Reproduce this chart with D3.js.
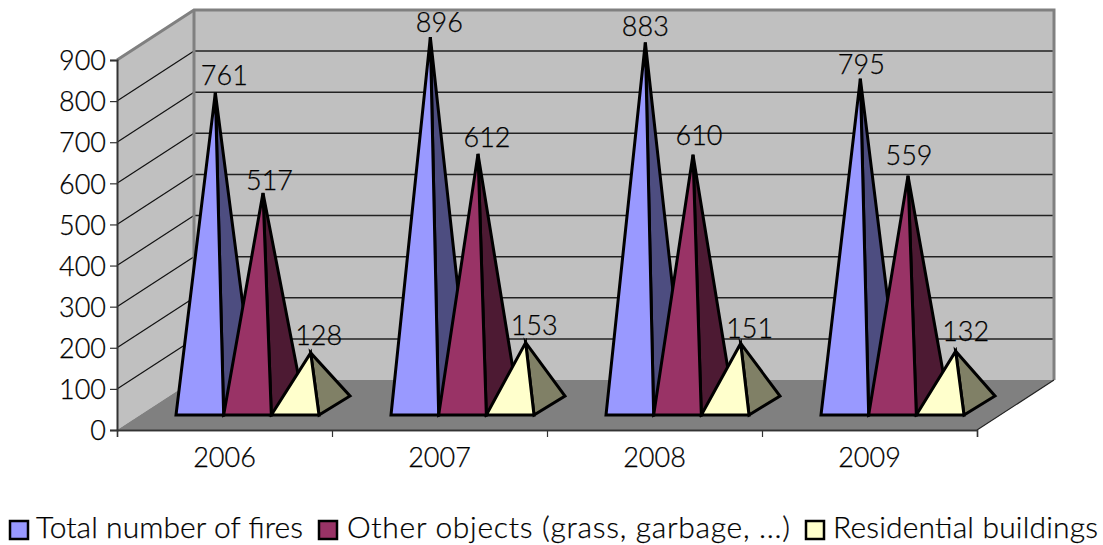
<!DOCTYPE html>
<html>
<head>
<meta charset="utf-8">
<script src="https://cdn.jsdelivr.net/npm/d3@7"></script>
<style>
  html, body { margin: 0; padding: 0; background: #fff; }
  svg { display: block; }
  text { font-family: Lato, "Open Sans", sans-serif; font-weight: 300; fill: #000; stroke: #000; stroke-width: 0.25; }
</style>
</head>
<body>
<main></main>
<script>
const years = ["2006", "2007", "2008", "2009"];
const seriesNames = ["Total number of fires", "Other objects (grass, garbage, ...)", "Residential buildings"];
const totalFires = [761, 896, 883, 795];
const otherObjects = [517, 612, 610, 559];
const residential = [128, 153, 151, 132];
const yTicks = [0, 100, 200, 300, 400, 500, 600, 700, 800, 900];
const frontColors = ["#9999ff", "#993366", "#ffffcc"];
const sideColors = ["#4d4d80", "#4d1a33", "#808066"];

// where each value label sits relative to its apex, by year then series
const labelDx = [[9, 6.5, 8], [9, 9, 8.5], [0, 6, 9], [1, 1, 10]];
const labelDy = [[-8, -3, -8], [-5, -7, -8], [-6, -10, -5], [-5, -11, -10]];

const w = 1103;
const h = 545;
const fontSize = 27;
const legendFontSize = 30;

// front plane of the box, and how far back the walls are pushed
const plotLeft = 117;
const plotRight = 977;
const plotBottom = 430;
const plotTop = 60;
const depthX = 77;
const depthY = 50;

// pyramid base, relative to the front plane
const baseLift = 15;
const baseDepthX = 31;
const baseDepthY = 19;
const apexLift = 24.5;

const svg = d3
  .select("main")
  .append("svg")
  .attr("width", w)
  .attr("height", h);

const x = d3.scaleBand().domain(years).range([plotLeft, plotRight]);
const xInner = d3.scaleBand().domain(seriesNames).range([59, 202]);
const xEdges = d3.scaleLinear().domain([0, years.length]).range([plotLeft, plotRight]);
const y = d3.scaleLinear().domain([0, 900]).range([plotBottom, plotTop]);

const walls = svg.append("g").attr("id", "walls");

walls
  .append("polygon")
  .attr("points", [
    [plotLeft, plotTop],
    [plotLeft + depthX, plotTop - depthY],
    [plotLeft + depthX, plotBottom - depthY],
    [plotLeft, plotBottom],
  ].join(" "))
  .attr("fill", "#c0c0c0");

walls
  .append("rect")
  .attr("x", plotLeft + depthX)
  .attr("y", plotTop - depthY)
  .attr("width", plotRight - plotLeft)
  .attr("height", plotBottom - plotTop)
  .attr("fill", "#c0c0c0");

walls
  .append("polygon")
  .attr("points", [
    [plotLeft, plotBottom],
    [plotRight, plotBottom],
    [plotRight + depthX, plotBottom - depthY],
    [plotLeft + depthX, plotBottom - depthY],
  ].join(" "))
  .attr("fill", "#808080");

// gridlines on the side wall and the back wall
const gridValues = yTicks.filter((d) => d > 0 && d < 900);

walls
  .selectAll(".side-grid")
  .data(gridValues)
  .join("line")
  .attr("class", "side-grid")
  .attr("x1", plotLeft)
  .attr("x2", plotLeft + depthX)
  .attr("y1", (d) => y(d))
  .attr("y2", (d) => y(d) - depthY)
  .attr("stroke", "#111")
  .attr("stroke-width", 1.2);

walls
  .selectAll(".back-grid")
  .data(gridValues)
  .join("line")
  .attr("class", "back-grid")
  .attr("x1", plotLeft + depthX)
  .attr("x2", plotRight + depthX)
  .attr("y1", (d) => y(d) - depthY)
  .attr("y2", (d) => y(d) - depthY)
  .attr("stroke", "#222")
  .attr("stroke-width", 1.5);

walls
  .append("path")
  .attr("d", d3.line()([
    [plotLeft, plotTop],
    [plotLeft + depthX, plotTop - depthY],
    [plotRight + depthX, plotTop - depthY],
    [plotRight + depthX, plotBottom - depthY],
  ]))
  .attr("fill", "none")
  .attr("stroke", "#808080")
  .attr("stroke-width", 3);

walls
  .append("line")
  .attr("x1", plotLeft + depthX)
  .attr("x2", plotLeft + depthX)
  .attr("y1", plotTop - depthY)
  .attr("y2", plotBottom - depthY)
  .attr("stroke", "#808080")
  .attr("stroke-width", 3);

// front right floor edge
walls
  .append("line")
  .attr("x1", plotRight)
  .attr("x2", plotRight + depthX)
  .attr("y1", plotBottom)
  .attr("y2", plotBottom - depthY)
  .attr("stroke", "#222")
  .attr("stroke-width", 1.2);

// axes
const yAxis = svg
  .append("g")
  .attr("transform", `translate(${plotLeft}, 0)`)
  .call(d3.axisLeft(y).tickValues(yTicks).tickSize(7).tickPadding(4));

const xAxis = svg
  .append("g")
  .attr("transform", `translate(0, ${plotBottom})`)
  .call(d3.axisBottom(x).tickSize(0).tickPadding(18));

const xEdgeAxis = svg
  .append("g")
  .attr("transform", `translate(0, ${plotBottom})`)
  .call(
    d3.axisBottom(xEdges).ticks(years.length).tickSize(7).tickFormat("")
  );

[yAxis, xAxis, xEdgeAxis].forEach((axis) => {
  axis.selectAll("path").attr("stroke", "#333").attr("stroke-width", 1.5);
  axis.selectAll("line").attr("stroke", "#333").attr("stroke-width", 1.2);
  axis.selectAll("text").attr("font-size", fontSize).attr("font-family", null);
});
yAxis.select("path").attr("stroke-width", 2);
yAxis.selectAll("text").attr("dy", "0.36em");

// pyramids, one series after the other per year so the front ones overlap
const rows = years.flatMap((year, i) =>
  [totalFires, otherObjects, residential].map((values, s) => ({
    year,
    i,
    s,
    name: seriesNames[s],
    value: values[i],
  }))
);

const pyramids = svg
  .append("g")
  .attr("id", "pyramids")
  .selectAll("g")
  .data(rows)
  .join("g");

function corners(d) {
  const x0 = x(d.year) + xInner(d.name);
  const x1 = x0 + xInner.bandwidth();
  const base = plotBottom - baseLift;
  const apex = [(x0 + x1) / 2 + baseDepthX / 2, y(d.value) - apexLift];
  return { x0, x1, base, apex };
}

pyramids
  .append("polygon")
  .attr("points", (d) => {
    const c = corners(d);
    return [
      c.apex,
      [c.x1, c.base],
      [c.x1 + baseDepthX, c.base - baseDepthY],
    ].join(" ");
  })
  .attr("fill", (d) => sideColors[d.s]);

pyramids
  .append("polygon")
  .attr("points", (d) => {
    const c = corners(d);
    return [[c.x0, c.base], [c.x1, c.base], c.apex].join(" ");
  })
  .attr("fill", (d) => frontColors[d.s]);

pyramids
  .selectAll("polygon")
  .attr("stroke", "#000")
  .attr("stroke-width", 3)
  .attr("stroke-linejoin", "miter");

svg
  .append("g")
  .attr("id", "labels")
  .selectAll("text")
  .data(rows)
  .join("text")
  .attr("x", (d) => corners(d).apex[0] + labelDx[d.i][d.s])
  .attr("y", (d) => corners(d).apex[1] + labelDy[d.i][d.s])
  .attr("text-anchor", "middle")
  .attr("font-size", fontSize)
  .text((d) => d.value);

// legend
const legendSwatchX = [10, 319, 806];
const legendTextX = [36, 347, 833];
const legendTextW = [267, 443, 265];

const legend = svg
  .append("g")
  .attr("id", "legend")
  .selectAll("g")
  .data(seriesNames)
  .join("g");

legend
  .append("rect")
  .attr("x", (d, i) => legendSwatchX[i])
  .attr("y", 521)
  .attr("width", 18)
  .attr("height", 18)
  .attr("fill", (d, i) => frontColors[i])
  .attr("stroke", "#000")
  .attr("stroke-width", 2.5);

legend
  .append("text")
  .attr("x", (d, i) => legendTextX[i])
  .attr("y", 538)
  .attr("font-size", legendFontSize)
  .attr("textLength", (d, i) => legendTextW[i])
  .attr("lengthAdjust", "spacing")
  .text((d) => d);
</script>
</body>
</html>
